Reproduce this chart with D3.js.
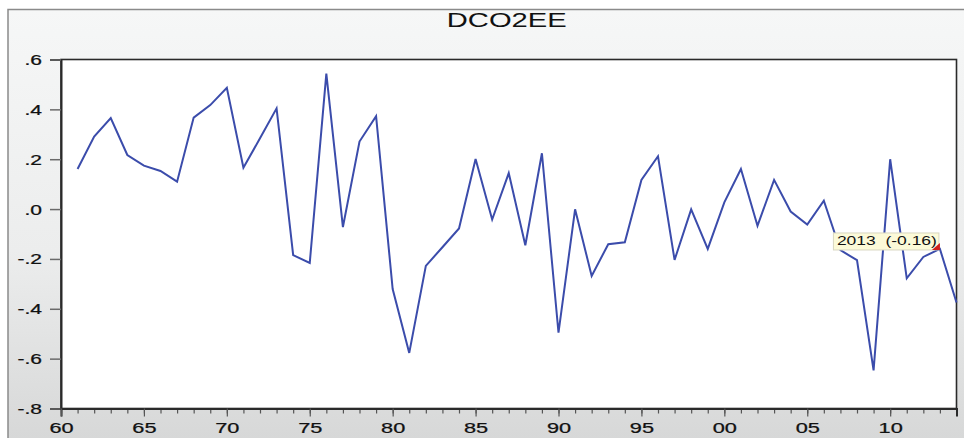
<!DOCTYPE html>
<html>
<head>
<meta charset="utf-8">
<script src="https://cdn.jsdelivr.net/npm/d3@7"></script>
<style>
  html, body { margin: 0; padding: 0; background: #ffffff; }
  svg { display: block; }
  text { font-family: "Liberation Sans", Arial, sans-serif; fill: #111; }
</style>
</head>
<body>
<svg id="chart" width="964" height="438"></svg>
<script>
// Annual series DCO2EE, 1961-2014
const years = d3.range(1961, 2015);
const values = [
  0.161, 0.291, 0.365, 0.217, 0.174, 0.153, 0.110, 0.367, 0.417, 0.486,
  0.166, 0.284, 0.404, -0.185, -0.216, 0.543, -0.072, 0.271, 0.373, -0.321,
  -0.577, -0.228, -0.153, -0.078, 0.201, -0.042, 0.144, -0.145, 0.224, -0.496,
  -0.001, -0.268, -0.141, -0.133, 0.117, 0.212, -0.204, -0.001, -0.160, 0.027,
  0.161, -0.067, 0.117, -0.010, -0.062, 0.034, -0.165, -0.205, -0.647, 0.200,
  -0.278, -0.192, -0.160, -0.375
];
const yTicks = [0.6, 0.4, 0.2, 0.0, -0.2, -0.4, -0.6, -0.8];
const yTickLabels = [".6", ".4", ".2", ".0", "-.2", "-.4", "-.6", "-.8"];
const xMajorTicks = d3.range(1960, 2015, 5);
const xMajorLabels = ["60", "65", "70", "75", "80", "85", "90", "95", "00", "05", "10"];
const xMinorTicks = d3.range(1960, 2015, 1);
const title = "DCO2EE";
const markerYear = 2013;
const markerValue = -0.16;

const svg = d3.select("#chart");
const W = 964, H = 438;
const plot = { left: 61, right: 956.5, top: 59.5, bottom: 408.5 };
const stretch = 1.5;   // wide glyphs used for all labels

// Panel background
const defs = svg.append("defs");
const grad = defs.append("linearGradient")
  .attr("id", "panelBg").attr("x1", 0).attr("y1", 0).attr("x2", 0).attr("y2", 1);
grad.append("stop").attr("offset", "0%").attr("stop-color", "#f6f7f7");
grad.append("stop").attr("offset", "55%").attr("stop-color", "#eceded");
grad.append("stop").attr("offset", "100%").attr("stop-color", "#d6d7d7");

svg.append("rect")
  .attr("x", 8).attr("y", 9.5).attr("width", W).attr("height", H)
  .attr("fill", "url(#panelBg)")
  .attr("stroke", "#8a8a8a").attr("stroke-width", 1.5);

// Scales
const x = d3.scaleLinear().domain([1960, 2014]).range([plot.left, plot.right]);
const y = d3.scaleLinear().domain([-0.8, 0.6]).range([plot.bottom, plot.top]);

// Plot area
svg.append("rect")
  .attr("x", plot.left).attr("y", plot.top)
  .attr("width", plot.right - plot.left).attr("height", plot.bottom - plot.top)
  .attr("fill", "#ffffff")
  .attr("stroke", "#2a2a2a").attr("stroke-width", 1.6);

// Title
svg.append("text")
  .attr("x", (plot.left + plot.right) / 2 - 2)
  .attr("y", 26.5)
  .attr("text-anchor", "middle")
  .attr("font-size", 19.5)
  .attr("textLength", 120)
  .attr("lengthAdjust", "spacingAndGlyphs")
  .text(title);

// Y axis
const yAxis = svg.append("g")
  .attr("transform", `translate(${plot.left},0)`)
  .call(d3.axisLeft(y).tickValues(yTicks).tickSize(11).tickPadding(0)
    .tickFormat((d, i) => yTickLabels[i]));
yAxis.select(".domain").attr("stroke", "#2a2a2a").attr("stroke-width", 2);
yAxis.selectAll(".tick line").attr("stroke", "#6a6a6a").attr("stroke-width", 1.5);
yAxis.selectAll(".tick text")
  .attr("font-size", 14)
  .attr("font-family", "Liberation Sans, Arial, sans-serif")
  .attr("fill", "#111")
  .attr("stroke", "#111").attr("stroke-width", 0.25)
  .attr("x", -19 / stretch)
  .attr("dy", "0.36em")
  .attr("transform", `scale(${stretch},1)`);

// X axis: minor ticks every year, labelled major ticks every five years
const xMinor = svg.append("g")
  .attr("transform", `translate(0,${plot.bottom})`)
  .call(d3.axisBottom(x).tickValues(xMinorTicks).tickSize(5).tickFormat(""));
xMinor.select(".domain").remove();
xMinor.selectAll(".tick line").attr("stroke", "#555").attr("stroke-width", 1.2);

const xAxis = svg.append("g")
  .attr("transform", `translate(0,${plot.bottom})`)
  .call(d3.axisBottom(x).tickValues(xMajorTicks).tickSize(8).tickPadding(0)
    .tickFormat((d, i) => xMajorLabels[i]));
xAxis.select(".domain").attr("stroke", "#2a2a2a").attr("stroke-width", 2);
xAxis.selectAll(".tick line").attr("stroke", "#555").attr("stroke-width", 1.2);
xAxis.selectAll(".tick text")
  .attr("font-size", 14.5)
  .attr("font-family", "Liberation Sans, Arial, sans-serif")
  .attr("fill", "#111")
  .attr("stroke", "#111").attr("stroke-width", 0.25)
  .attr("y", 25)
  .attr("dy", 0)
  .attr("transform", `scale(${stretch},1)`);

// Series line
const line = d3.line()
  .x((d, i) => x(years[i]))
  .y(d => y(d));

svg.append("path")
  .datum(values)
  .attr("fill", "none")
  .attr("stroke", "#3b4cab")
  .attr("stroke-width", 2)
  .attr("stroke-linejoin", "miter")
  .attr("d", line);

// Data tip at the 2013 observation
const px = x(markerYear), py = y(markerValue);
const tip = svg.append("g");
tip.append("rect")
  .attr("x", px - 106.5).attr("y", py - 16)
  .attr("width", 105.5).attr("height", 17)
  .attr("fill", "#fcfad8")
  .attr("stroke", "#d8d6c0").attr("stroke-width", 1);
tip.append("text")
  .attr("x", px - 103).attr("y", py - 3.5)
  .attr("font-size", 12.5)
  .attr("textLength", 100)
  .attr("lengthAdjust", "spacingAndGlyphs")
  .style("white-space", "pre")
  .text(`${markerYear}  (${markerValue.toFixed(2)})`);
tip.append("path")
  .attr("d", `M${px},${py - 6} L${px},${py + 1} L${px - 8},${py + 1} Z`)
  .attr("fill", "#d0201e");
</script>
</body>
</html>
